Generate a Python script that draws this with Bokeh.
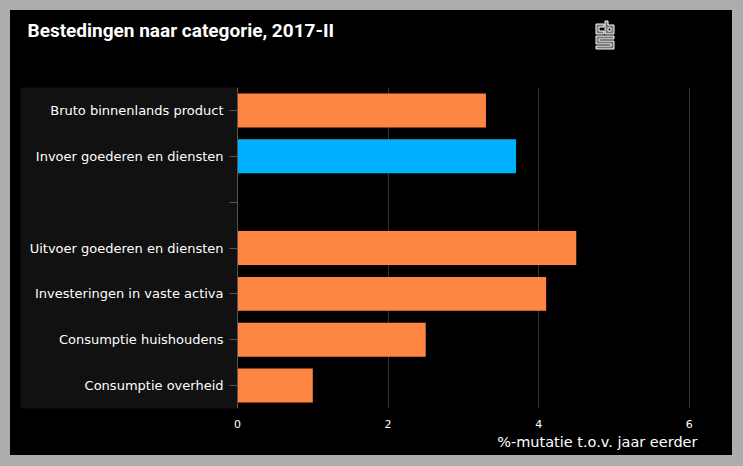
from bokeh.plotting import figure
from bokeh.models import FactorRange, Range1d, Title, FixedTicker, ColumnDataSource
from bokeh.embed import file_html
from bokeh.resources import INLINE

title_text = "Bestedingen naar categorie, 2017-II"
x_label = "%-mutatie t.o.v. jaar eerder"

# top-to-bottom order as in the chart (" " is the empty separator row)
categories = [
    "Bruto binnenlands product",
    "Invoer goederen en diensten",
    " ",
    "Uitvoer goederen en diensten",
    "Investeringen in vaste activa",
    "Consumptie huishoudens",
    "Consumptie overheid",
]
values = [3.3, 3.7, None, 4.5, 4.1, 2.5, 1.0]
bar_colors = ["#FF8642", "#00B0FF", "#000000", "#FF8642", "#FF8642", "#FF8642", "#FF8642"]
x_ticks = [0, 2, 4, 6]

W, H = 722, 445
FL, FR, FT, FB = 227, 32, 77, 47
XMAX = 6.15

p = figure(
    width=W, height=H,
    y_range=FactorRange(factors=list(reversed(categories)), range_padding=0),
    x_range=Range1d(0, XMAX),
    output_backend="svg", toolbar_location=None,
    min_border_left=FL, min_border_right=FR, min_border_top=FT, min_border_bottom=FB,
)
p.background_fill_color = "#000000"
p.border_fill_color = "#000000"
p.outline_line_color = None
p.styles = {"background-color": "#000000"}

rows = [(c, v, col) for c, v, col in zip(categories, values, bar_colors) if v is not None]
src = ColumnDataSource(dict(cat=[r[0] for r in rows], val=[r[1] for r in rows], col=[r[2] for r in rows]))
p.hbar(y="cat", left=0, right="val", height=0.74, fill_color="col", line_color=None, source=src)

# grid
p.ygrid.grid_line_color = None
p.xgrid.grid_line_color = "#333333"
p.xgrid.ticker = FixedTicker(ticks=x_ticks)

# x axis
xa = p.xaxis[0]
xa.ticker = FixedTicker(ticks=x_ticks)
xa.axis_line_color = None
xa.major_tick_line_color = None
xa.minor_tick_line_color = None
xa.major_label_text_color = "#ffffff"
xa.major_label_text_font = "DejaVu Sans"
xa.major_label_text_font_size = "11px"
xa.major_label_standoff = 5

# y axis
ya = p.yaxis[0]
ya.axis_line_color = "#555555"
ya.major_tick_line_color = "#555555"
ya.major_tick_out = 8
ya.major_tick_in = 0
ya.major_label_text_color = "#ffffff"
ya.major_label_text_font = "DejaVu Sans"
ya.major_label_text_font_size = "13px"
ya.major_label_standoff = 6
ya.axis_label = " "
ya.axis_label_text_font_size = "3px"
ya.axis_label_standoff = 0
if "background_fill_color" in ya.properties():
    ya.background_fill_color = "#111111"

# spacer (closest to frame) and title above it
p.title = None
p.add_layout(Title(text=" ", text_font_size="1px", standoff=43), "above")
p.add_layout(Title(text=title_text, align="left", offset=-(FL - 17), standoff=0,
                   text_color="#ffffff", text_font="Roboto", text_font_style="bold",
                   text_font_size="19px"), "above")
# x axis label below, right aligned
p.add_layout(Title(text=x_label, align="right", offset=3, standoff=2,
                   text_color="#ffffff", text_font="DejaVu Sans", text_font_style="normal",
                   text_font_size="14.5px"), "below")

logo = """<div style="position:absolute;left:595px;top:20px;width:20px;height:30px;z-index:1000;pointer-events:none">
<svg width="20" height="30" viewBox="0 0 20 30" xmlns="http://www.w3.org/2000/svg">
<g fill="#777" stroke="#fff" stroke-width="1">
<path d="M1 4 h8 v3 h-5 v4 h5 v3 h-8 z"/>
<path d="M10 1 h3 v4 h6 v9 h-9 z M13 8 v3 h3 v-3 z" fill-rule="evenodd"/>
<path d="M1 16 h18 v3 h-15 v2 h15 v8 h-18 v-3 h15 v-2 h-15 z"/>
</g></svg></div>
<div style="position:absolute;left:10px;top:10px;width:722px;height:445px;background:#000;z-index:-1"></div>"""

html = file_html(p, INLINE)
html = html.replace("</head>", "<style>html{background:#adadad !important;}body{background:transparent !important;margin:0 !important;padding:10px 0 0 10px !important;}</style></head>", 1)
idx = html.rfind("</body>")
html = html[:idx] + logo + html[idx:]
open("out.html", "w").write(html)
